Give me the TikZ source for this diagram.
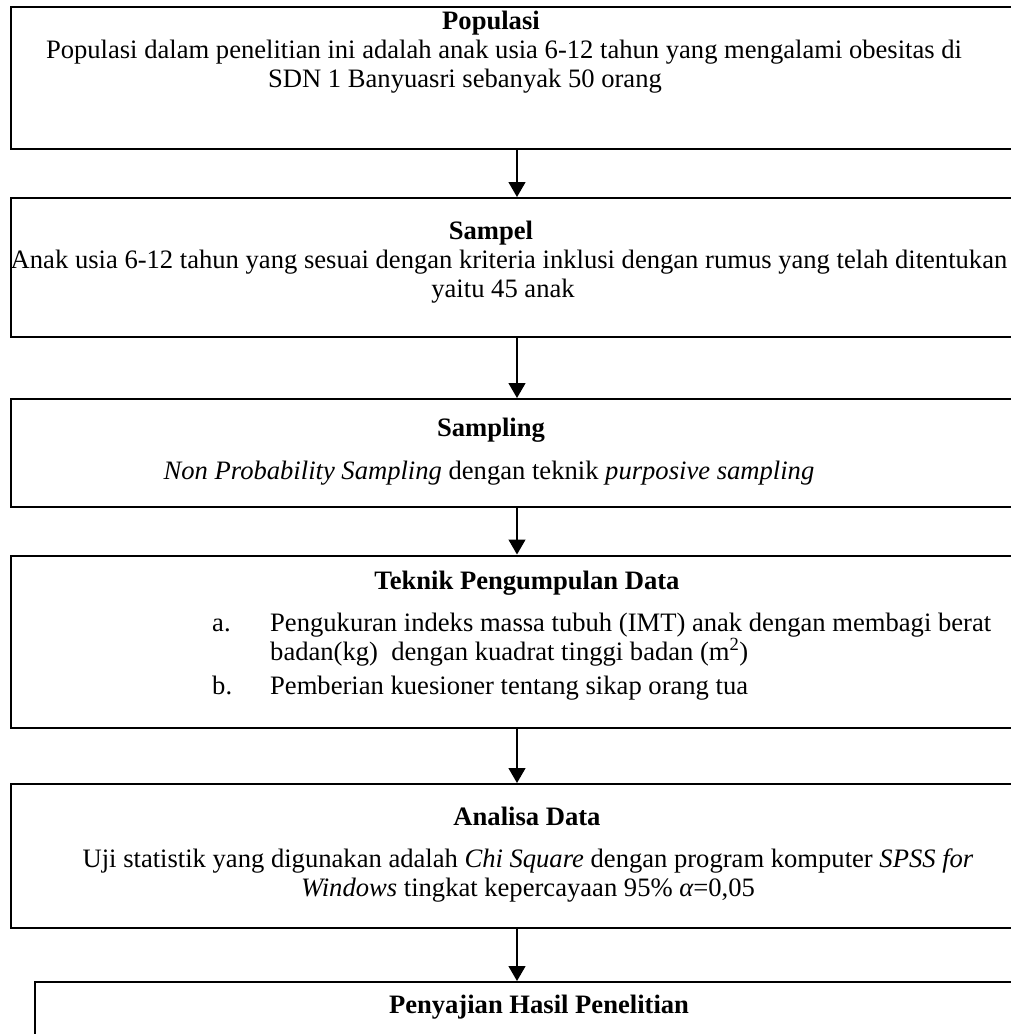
\documentclass[tikz,border=0pt]{standalone}
\usepackage{fontspec}
\setmainfont{Liberation Serif}
\usetikzlibrary{arrows.meta}

\begin{document}
\begin{tikzpicture}[x=1pt,y=-1pt,
    box/.style={draw, line width=2pt, minimum width=1012pt, inner sep=0pt},
    txt/.style={anchor=base, inner sep=0pt, font=\fontsize{26.6}{30}\selectfont},
    judul/.style={txt, font=\fontsize{26.6}{30}\selectfont\bfseries},
    arr/.style={line width=1.3pt, -{Triangle[width=17pt,length=15pt]}}]
    \useasboundingbox (0,0) rectangle (1010,1034);

    % Boxes
    \node[box, minimum height=142pt] (pop) at (517,78) {};
    \node[box, minimum height=139pt] (smp) at (517,267.5) {};
    \node[box, minimum height=108pt] (smpl) at (517,453) {};
    \node[box, minimum height=172pt] (tpd) at (517,641.5) {};
    \node[box, minimum height=144pt] (ana) at (517,856) {};
    \node[box, minimum width=1010pt, minimum height=120pt] (hsl) at (540,1042) {};

    % Arrows between the boxes
    \draw[arr] (pop.south) -- (smp.north);
    \draw[arr] (smp.south) -- (smpl.north);
    \draw[arr] (smpl.south) -- (tpd.north);
    \draw[arr] (tpd.south) -- (ana.north);
    \draw[arr] (ana.south) -- (ana.south |- hsl.north);

    % Populasi
    \node[judul] (popJ) at (491,29) {Populasi};
    \node[txt] (pop1) at (504,58) {Populasi dalam penelitian ini adalah anak usia 6-12 tahun yang mengalami obesitas di};
    \node[txt] (pop2) at (465,87) {SDN 1 Banyuasri sebanyak 50 orang};

    % Sampel
    \node[judul] (smpJ) at (491,239) {Sampel};
    \node[txt] (smp1) at (509,268) {Anak usia 6-12 tahun yang sesuai dengan kriteria inklusi dengan rumus yang telah ditentukan};
    \node[txt] (smp2) at (503,297) {yaitu 45 anak};

    % Sampling
    \node[judul] (smplJ) at (491,436) {Sampling};
    \node[txt] (smpl1) at (489,479) {\textit{Non Probability Sampling} dengan teknik \textit{purposive sampling}};

    % Teknik Pengumpulan Data
    \node[judul] (tpdJ) at (527,589) {Teknik Pengumpulan Data};
    \node[txt, anchor=base west] (tpdA) at (212,631) {a.};
    \node[txt, anchor=base west] (tpdA1) at (270,631) {Pengukuran indeks massa tubuh (IMT) anak dengan membagi berat};
    \node[txt, anchor=base west] (tpdA2) at (270,660) {badan(kg)\ \ dengan kuadrat tinggi badan (m\textsuperscript{2})};
    \node[txt, anchor=base west] (tpdB) at (212,694) {b.};
    \node[txt, anchor=base west] (tpdB1) at (270,694) {Pemberian kuesioner tentang sikap orang tua};

    % Analisa Data
    \node[judul] (anaJ) at (527,825) {Analisa Data};
    \node[txt] (ana1) at (528,867) {Uji statistik yang digunakan adalah \textit{Chi Square} dengan program komputer \textit{SPSS for}};
    \node[txt] (ana2) at (528,896) {\textit{Windows} tingkat kepercayaan 95\% {\itshape α}=0,05};

    % Penyajian Hasil Penelitian
    \node[judul] (hslJ) at (539,1013) {Penyajian Hasil Penelitian};
\end{tikzpicture}
\end{document}
